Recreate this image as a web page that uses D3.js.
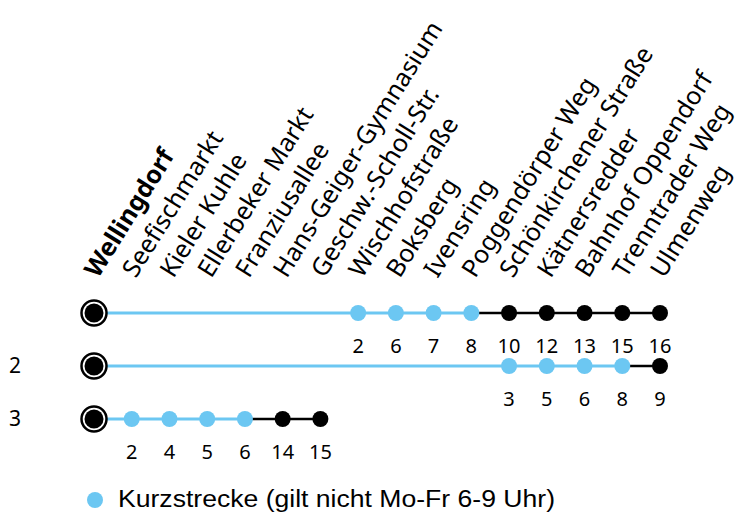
<!DOCTYPE html>
<html lang="de">
<head>
<meta charset="UTF-8">
<title>Linie Wellingdorf</title>
<style>
  body { margin: 0; background: #fff; }
  .stop { font-family: "Noto Sans", sans-serif; fill: #000; }
</style>
</head>
<body>
<svg id="chart" width="743" height="513"></svg>
<script src="https://d3js.org/d3.v7.min.js"></script>
<script>
// stations along the line, in order
var stations = ["Wellingdorf", "Seefischmarkt", "Kieler Kuhle", "Ellerbeker Markt", "Franziusallee",
    "Hans-Geiger-Gymnasium", "Geschw.-Scholl-Str.", "Wischhofstraße", "Boksberg", "Ivensring",
    "Poggendörper Weg", "Schönkirchener Straße", "Kätnersredder", "Bahnhof Oppendorf",
    "Trenntrader Weg", "Ulmenweg"];

var rowIds = ["1", "2", "3"];
var rowLabels = ["", "2", "3"];

// row 1
var row1Stops = ["Wischhofstraße", "Boksberg", "Ivensring", "Poggendörper Weg", "Schönkirchener Straße",
    "Kätnersredder", "Bahnhof Oppendorf", "Trenntrader Weg", "Ulmenweg"];
var row1Minutes = [2, 6, 7, 8, 10, 12, 13, 15, 16];
var row1Short = [true, true, true, true, false, false, false, false, false];

// row 2
var row2Stops = ["Schönkirchener Straße", "Kätnersredder", "Bahnhof Oppendorf", "Trenntrader Weg", "Ulmenweg"];
var row2Minutes = [3, 5, 6, 8, 9];
var row2Short = [true, true, true, true, false];

// row 3
var row3Stops = ["Seefischmarkt", "Kieler Kuhle", "Ellerbeker Markt", "Franziusallee",
    "Hans-Geiger-Gymnasium", "Geschw.-Scholl-Str."];
var row3Minutes = [2, 4, 5, 6, 14, 15];
var row3Short = [true, true, true, true, false, false];

var legendText = "Kurzstrecke (gilt nicht Mo-Fr 6-9 Uhr)";

var blue = "#6cc7f2";

var svg = d3.select("#chart");
svg.append("rect").attr("width", 743).attr("height", 513).attr("fill", "#fff");

var x = d3.scalePoint().domain(stations).range([94, 660]);
var y = d3.scalePoint().domain(rowIds).range([313, 419]);

var rows = [
    {id: "1", label: rowLabels[0], stops: row1Stops, minutes: row1Minutes, short: row1Short},
    {id: "2", label: rowLabels[1], stops: row2Stops, minutes: row2Minutes, short: row2Short},
    {id: "3", label: rowLabels[2], stops: row3Stops, minutes: row3Minutes, short: row3Short}
];

// station names, rotated
svg.append("g").selectAll("text")
    .data(stations)
    .join("text")
    .attr("class", "stop")
    .attr("transform", function (d) { return "translate(" + (x(d) + 4) + ",279) rotate(-58)"; })
    .attr("font-size", 25)
    .attr("font-weight", function (d, i) { return i === 0 ? 700 : 400; })
    .text(function (d) { return d; });

rows.forEach(function (r) {
    var g = svg.append("g");
    var ry = y(r.id);
    var lastShort = r.stops[r.short.lastIndexOf(true)];
    var last = r.stops[r.stops.length - 1];

    // black part
    g.append("line")
        .attr("x1", x(lastShort)).attr("x2", x(last))
        .attr("y1", ry).attr("y2", ry)
        .attr("stroke", "#000").attr("stroke-width", 2.5);
    // blue part, from the start
    g.append("line")
        .attr("x1", x(stations[0])).attr("x2", x(lastShort))
        .attr("y1", ry).attr("y2", ry)
        .attr("stroke", blue).attr("stroke-width", 3);

    // start marker
    g.append("circle").attr("cx", x(stations[0])).attr("cy", ry).attr("r", 12.5)
        .attr("fill", "#fff").attr("stroke", "#000").attr("stroke-width", 2.5);
    g.append("circle").attr("cx", x(stations[0])).attr("cy", ry).attr("r", 9.5).attr("fill", "#000");

    g.selectAll("circle.dot")
        .data(r.stops)
        .join("circle")
        .attr("class", "dot")
        .attr("cx", function (d) { return x(d); })
        .attr("cy", ry)
        .attr("r", 8)
        .attr("fill", function (d, i) { return r.short[i] ? blue : "#000"; });

    g.selectAll("text.min")
        .data(r.minutes)
        .join("text")
        .attr("class", "min stop")
        .attr("x", function (d, i) { return x(r.stops[i]); })
        .attr("y", ry + 40)
        .attr("text-anchor", "middle")
        .attr("font-size", 20)
        .text(function (d) { return d; });

    g.append("text")
        .attr("class", "stop")
        .attr("x", 15).attr("y", ry + 7)
        .attr("text-anchor", "middle")
        .attr("font-size", 21)
        .text(r.label);
});

// legend
svg.append("circle").attr("cx", 95).attr("cy", 500).attr("r", 8).attr("fill", blue);
svg.append("text")
    .attr("x", 118).attr("y", 507)
    .attr("font-family", "'Liberation Sans', Arial, sans-serif")
    .attr("font-size", 23)
    .attr("textLength", 437)
    .attr("lengthAdjust", "spacingAndGlyphs")
    .attr("fill", "#000")
    .text(legendText);
</script>
</body>
</html>
